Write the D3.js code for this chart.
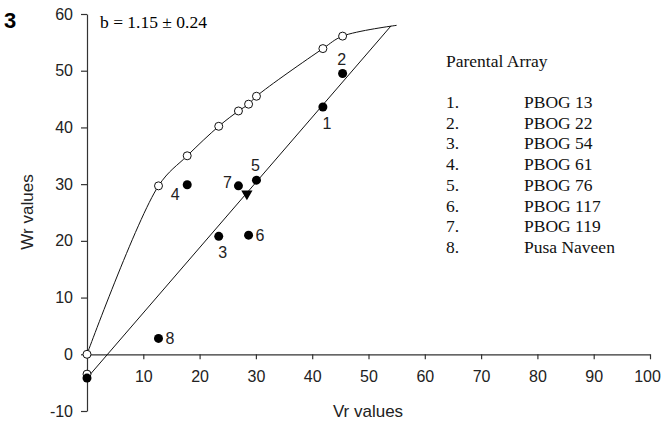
<!DOCTYPE html>
<html>
<head>
<meta charset="utf-8">
<script src="https://cdn.jsdelivr.net/npm/d3@7"></script>
<style>
  body { margin: 0; background: #fff; }
  svg { display: block; }
  .tick text { font-family: "Liberation Sans", Arial, sans-serif; }
</style>
</head>
<body>
<script>
/* Vr-Wr graph for the parental array
 * open circles: limiting parabola, filled dots: parents, line: regression b
 * */

// parents, in legend order
var parentNames = ['PBOG 13', 'PBOG 22', 'PBOG 54', 'PBOG 61', 'PBOG 76', 'PBOG 117', 'PBOG 119', 'Pusa Naveen'];
var parentVr    = [41.9, 45.4, 23.4, 17.8, 30.1, 28.7, 26.9, 12.7];
var parentWr    = [43.6, 49.5, 20.8, 29.9, 30.7, 21.0, 29.7, 2.8];
// Wr on the limiting parabola at the same Vr
var parabolaWr  = [53.9, 56.1, 40.2, 35.0, 45.5, 44.1, 42.9, 29.7];
// where the number sits next to each parent dot
var labelSide   = ['below', 'above', 'below', 'belowLeft', 'above', 'right', 'left', 'right'];

// regression line Wr = a + b*Vr
var slopeB = 1.15, slopeSE = 0.24;
var interceptA = -4.2;
var lineVr = [0, 54];
// parabola trace ends here
var curveEnd = [55, 58];
// mean point (Vr, Wr)
var meanPoint = [28.4, 28.3];

var xTicks = [0, 10, 20, 30, 40, 50, 60, 70, 80, 90, 100];
var yTicks = [-10, 0, 10, 20, 30, 40, 50, 60];

var width = 662, height = 423;
var axisColor = '#333';
var sans = '"Liberation Sans", Arial, sans-serif';
var serif = '"Liberation Serif", "Times New Roman", serif';

var svg = d3.select('body').append('svg')
  .attr('width', width)
  .attr('height', height);

svg.append('rect').attr('width', width).attr('height', height).attr('fill', '#fff');

var x = d3.scaleLinear().domain([0, 100]).range([87, 650]);
var y = d3.scaleLinear().domain([-10, 60]).range([411, 14]);

// plain hyphen for negatives
var plain = function(d) { return String(d); };

// X axis sits on Wr = 0
var xAxis = svg.append('g')
  .attr('transform', 'translate(0,' + y(0) + ')')
  .call(d3.axisBottom(x).tickValues(xTicks).tickFormat(plain).tickSize(5).tickPadding(11).tickSizeOuter(0));
xAxis.selectAll('.tick').filter(function(d) { return d === 0; }).select('text').remove();
// keep the last label inside the frame
xAxis.selectAll('.tick').filter(function(d) { return d === 100; }).select('text').attr('dx', -3);

var yAxis = svg.append('g')
  .attr('transform', 'translate(' + x(0) + ',0)')
  .call(d3.axisLeft(y).tickValues(yTicks).tickFormat(plain).tickSize(6).tickPadding(8).tickSizeOuter(0));

svg.selectAll('.domain').attr('stroke', axisColor).attr('stroke-width', 1.2);
svg.selectAll('.tick line').attr('stroke', axisColor).attr('stroke-width', 1.2);
svg.selectAll('.tick text')
  .attr('font-size', 16)
  .attr('fill', '#222');

// axis titles
svg.append('text')
  .attr('x', 368).attr('y', 417)
  .attr('text-anchor', 'middle')
  .attr('font-family', sans)
  .attr('font-size', 17)
  .attr('fill', '#222')
  .text('Vr values');

svg.append('text')
  .attr('transform', 'translate(33,212) rotate(-90)')
  .attr('text-anchor', 'middle')
  .attr('font-family', sans)
  .attr('font-size', 17)
  .attr('fill', '#222')
  .text('Wr values');

// panel number and slope
svg.append('text')
  .attr('x', 4).attr('y', 28)
  .attr('font-family', sans)
  .attr('font-weight', 'bold')
  .attr('font-size', 22)
  .text('3');

svg.append('text')
  .attr('x', 100).attr('y', 28)
  .attr('font-family', serif)
  .attr('font-size', 17.5)
  .text('b = ' + slopeB.toFixed(2) + ' \u00b1 ' + slopeSE.toFixed(2));

// parabola trace, through the open circles
var curvePts = [[0, 0]];
var order = d3.range(parentVr.length).sort(function(a, b) { return parentVr[a] - parentVr[b]; });
order.forEach(function(i) { curvePts.push([parentVr[i], parabolaWr[i]]); });
curvePts.push(curveEnd);

var line = d3.line()
  .x(function(d) { return x(d[0]); })
  .y(function(d) { return y(d[1]); });

svg.append('path')
  .attr('d', line.curve(d3.curveCatmullRom.alpha(0.5))(curvePts))
  .attr('fill', 'none')
  .attr('stroke', '#111')
  .attr('stroke-width', 1);

// regression line
svg.append('path')
  .attr('d', line.curve(d3.curveLinear)(lineVr.map(function(v) { return [v, interceptA + slopeB * v]; })))
  .attr('fill', 'none')
  .attr('stroke', '#111')
  .attr('stroke-width', 1);

// intercept point on the Wr axis
svg.append('circle')
  .attr('cx', x(0)).attr('cy', y(interceptA + 0.7))
  .attr('r', 4).attr('fill', '#fff').attr('stroke', '#111');
svg.append('circle')
  .attr('cx', x(0)).attr('cy', y(interceptA))
  .attr('r', 4.5).attr('fill', '#000');

// open circles on the parabola
svg.append('g').selectAll('circle')
  .data(d3.range(parentVr.length))
  .enter().append('circle')
    .attr('cx', function(i) { return x(parentVr[i]); })
    .attr('cy', function(i) { return y(parabolaWr[i]); })
    .attr('r', 4)
    .attr('fill', '#fff')
    .attr('stroke', '#111')
    .attr('stroke-width', 1);
svg.append('circle')
  .attr('cx', x(0)).attr('cy', y(0))
  .attr('r', 4).attr('fill', '#fff').attr('stroke', '#111');

// parents
svg.append('g').selectAll('circle')
  .data(d3.range(parentVr.length))
  .enter().append('circle')
    .attr('cx', function(i) { return x(parentVr[i]); })
    .attr('cy', function(i) { return y(parentWr[i]); })
    .attr('r', 4.5)
    .attr('fill', '#000');

// mean point
svg.append('path')
  .attr('d', d3.symbol().type(d3.symbolTriangle).size(55)())
  .attr('transform', 'translate(' + x(meanPoint[0]) + ',' + y(meanPoint[1]) + ') rotate(180)')
  .attr('fill', '#000');

// parent numbers
var sideOffset = {
  above:     { dx: -1,  dy: -9,  anchor: 'middle' },
  below:     { dx: 4,   dy: 22,  anchor: 'middle' },
  left:      { dx: -11, dy: 2,   anchor: 'middle' },
  belowLeft: { dx: -12, dy: 15,  anchor: 'middle' },
  right:     { dx: 7,   dy: 6,   anchor: 'start' }
};
svg.append('g').selectAll('text')
  .data(d3.range(parentVr.length))
  .enter().append('text')
    .attr('x', function(i) { return x(parentVr[i]) + sideOffset[labelSide[i]].dx; })
    .attr('y', function(i) { return y(parentWr[i]) + sideOffset[labelSide[i]].dy; })
    .attr('text-anchor', function(i) { return sideOffset[labelSide[i]].anchor; })
    .attr('font-family', sans)
    .attr('font-size', 16)
    .attr('fill', '#222')
    .text(function(i) { return i + 1; });

// legend
var legend = svg.append('g')
  .attr('font-family', serif)
  .attr('font-size', 17.5)
  .attr('fill', '#111');

legend.append('text').attr('x', 446).attr('y', 67).text('Parental Array');

legend.selectAll('.num')
  .data(parentNames)
  .enter().append('text')
    .attr('class', 'num')
    .attr('x', 446)
    .attr('y', function(d, i) { return 108 + i * 20.7; })
    .text(function(d, i) { return (i + 1) + '.'; });

legend.selectAll('.name')
  .data(parentNames)
  .enter().append('text')
    .attr('class', 'name')
    .attr('x', 524)
    .attr('y', function(d, i) { return 108 + i * 20.7; })
    .text(function(d) { return d; });
</script>
</body>
</html>
